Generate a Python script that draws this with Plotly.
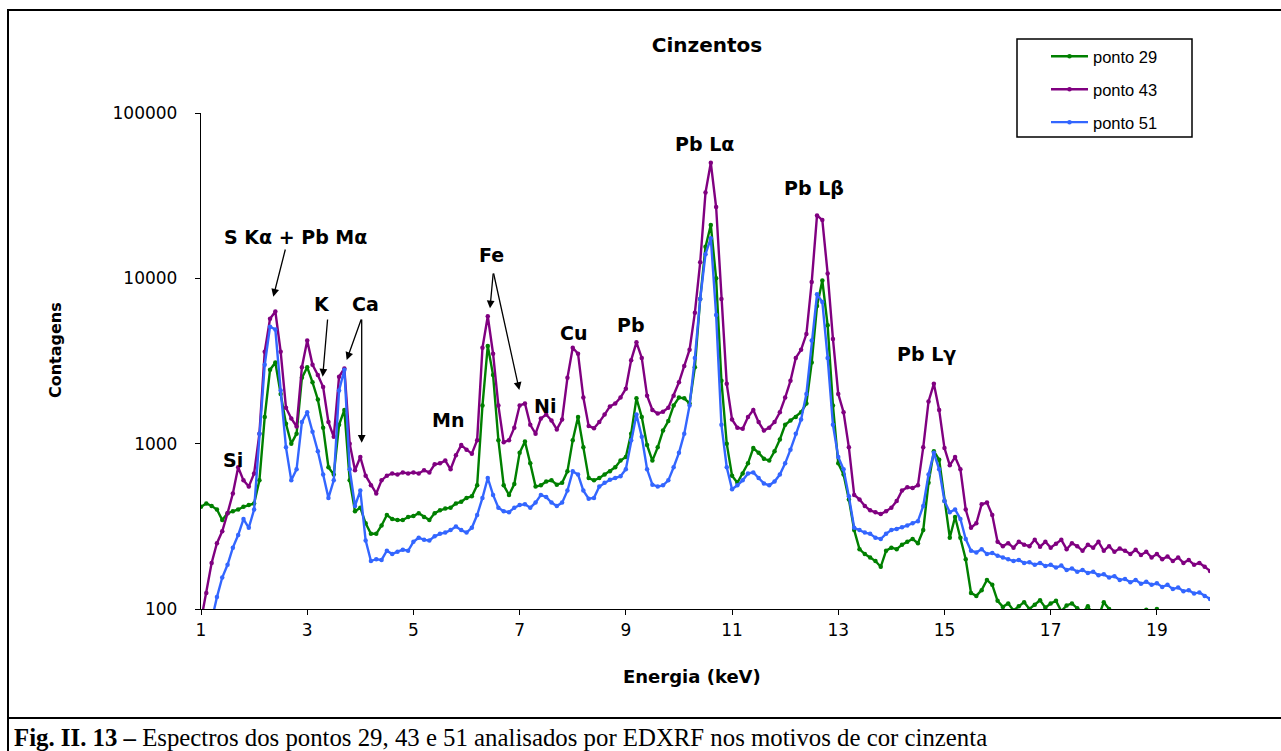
import plotly.graph_objects as go
import math

# ---------------- data ----------------
energia = [round(1 + 0.1 * i, 1) for i in range(191)]  # keV, 1.0 .. 20.0

ponto_29 = [
    415, 435, 420, 400, 345, 380, 390, 400, 415, 425,            # 1.x
    435, 600, 1450, 2800, 3100, 2000, 1320, 1000, 1150, 2500,     # 2.x
    2900, 2350, 1850, 1250, 720, 650, 1300, 1600, 600, 390,       # 3.x
    410, 330, 285, 285, 320, 370, 350, 345, 345, 360,             # 4.x
    365, 380, 360, 345, 380, 395, 405, 410, 435, 445,             # 5.x
    470, 480, 560, 1700, 3900, 2600, 1050, 560, 490, 570,         # 6.x
    880, 1030, 760, 550, 560, 590, 600, 565, 580, 680,            # 7.x
    1050, 1450, 950, 620, 600, 620, 650, 680, 720, 790,           # 8.x
    830, 1150, 1880, 1450, 980, 790, 950, 1200, 1370, 1700,       # 9.x
    1900, 1880, 1750, 2900, 7500, 15500, 21000, 10000, 2400, 1000,  # 10.x
    640, 580, 660, 760, 940, 880, 810, 790, 900, 1060,            # 11.x
    1300, 1380, 1450, 1550, 1750, 3100, 6800, 9700, 5200, 1700,   # 12.x
    760, 650, 460, 300, 230, 215, 205, 195, 180, 225,             # 13.x
    235, 230, 245, 255, 265, 250, 300, 580, 900, 800,             # 14.x
    450, 270, 360, 270, 200, 125, 120, 130, 150, 140,             # 15.x
    112, 103, 108, 98, 104, 110, 100, 106, 113, 102,              # 16.x
    108, 112, 97, 105, 108, 101, 95, 104, 92, 90,                 # 17.x
    110, 100, 88, 85, 80, 82, 78, 84, 99, 80,                     # 18.x
    100, 82, 76, 80, 74, 78, 72, 75, 70, 72,                      # 19.x
    68,                                                           # 20.0
]

ponto_43 = [
    85, 125, 190, 250, 295, 380, 500, 720, 600, 550,
    660, 1150, 3600, 5700, 6300, 3600, 1650, 1420, 1270, 2900,
    4200, 3000, 2600, 2200, 1350, 1100, 2540, 2850, 1000, 690,
    830, 640, 560, 500, 600, 640, 660, 650, 670, 660,
    670, 660, 690, 670, 750, 760, 790, 700, 850, 980,
    920, 870, 1050, 3800, 5900, 3500, 1700, 1020, 1050, 1250,
    1700, 1750, 1300, 1150, 1420, 1500, 1380, 1220, 1400, 2500,
    3800, 3500, 1900, 1280, 1240, 1350, 1500, 1680, 1750, 1900,
    2150, 3200, 4100, 3300, 1950, 1600, 1520, 1560, 1650, 1950,
    2350, 2950, 3700, 6200, 12500, 33000, 50000, 27000, 7500, 2300,
    1400, 1250, 1230, 1450, 1600, 1350, 1200, 1250, 1350, 1550,
    1900, 2400, 3300, 3700, 4600, 9500, 24000, 22500, 10700, 4300,
    2000, 1550, 950, 490, 460, 420, 395, 385, 375, 390,
    410, 450, 520, 545, 540, 560, 950, 1800, 2300, 1600,
    940, 740, 830, 700, 400, 310, 330, 430, 440, 370,
    255, 240, 250, 235, 255, 245, 240, 262, 238, 255,
    235, 248, 262, 230, 250, 240, 225, 245, 235, 255,
    225, 240, 222, 232, 225, 215, 228, 212, 222, 205,
    215, 200, 208, 195, 205, 190, 198, 185, 190, 180,
    170,
]

ponto_51 = [
    60, 70, 85, 118, 155, 185, 235, 280, 350, 310,
    400, 1150, 3000, 5100, 4900, 2100, 950, 600, 700, 1350,
    1550, 1180, 900, 650, 470, 600, 2100, 2800, 700, 420,
    520, 260, 195, 200, 198, 225, 215, 222, 228, 225,
    255, 270, 262, 260, 275, 285, 290, 300, 315, 300,
    290, 310, 370, 470, 620, 490, 410, 390, 385, 410,
    425, 430, 410, 440, 490, 475, 440, 420, 440, 520,
    680, 650, 520, 465, 470, 550, 580, 605, 620, 635,
    700, 1050, 1500, 1100, 700, 565, 550, 560, 600, 720,
    880, 1150, 1700, 3300, 7500, 14000, 17500, 6000, 1300, 720,
    530, 560, 600, 660, 670, 620, 575, 560, 590, 650,
    760, 920, 1150, 1400, 2000, 4200, 8000, 7200, 3300, 1300,
    830, 700, 480, 310, 300, 290, 285, 270, 265, 285,
    300, 305, 312, 320, 330, 340, 420, 650, 880, 700,
    450, 385, 400, 350, 265, 225, 220, 230, 215, 218,
    210, 205, 200, 195, 198, 190, 192, 185, 190, 182,
    185, 178, 183, 172, 176, 168, 172, 165, 168, 160,
    162, 155, 158, 150, 152, 145, 150, 142, 146, 140,
    143, 136, 140, 132, 135, 128, 130, 124, 126, 120,
    115,
]

series_names = ["ponto 29", "ponto 43", "ponto 51"]
series_colors = ["#008000", "#800080", "#3366FF"]

x_ticks = [1, 3, 5, 7, 9, 11, 13, 15, 17, 19]
y_ticks = [100, 1000, 10000, 100000]
y_tick_labels = ["100", "1000", "10000", "100000"]

# peak labels: (text, centre x px, centre y px)
peak_labels = [
    ("S K\u03b1 + Pb M\u03b1", 295, 237),
    ("K", 322, 304),
    ("Ca", 365, 304),
    ("Si", 233, 460),
    ("Mn", 448, 420),
    ("Fe", 491, 255),
    ("Ni", 545, 406),
    ("Cu", 573, 333),
    ("Pb", 631, 325),
    ("Pb L\u03b1", 704, 144),
    ("Pb L\u03b2", 814, 188),
    ("Pb L\u03b3", 926, 354),
]
# arrows: (head x px, head y px, tail x px, tail y px)
arrows = [
    (273.3, 296.7, 285.7, 248),
    (322.7, 376.7, 327.7, 318),
    (346.7, 360.0, 361.7, 318),
    (361.7, 442.7, 361.7, 318),
    (490.0, 308.3, 493.3, 272),
    (519.3, 390.0, 493.3, 272),
]

# ---------------- layout geometry ----------------
W, H = 1281, 751
L, R, T, B = 201, 1210, 113, 609
PW, PH = R - L, B - T


def px2x(px):
    return (px - L) / PW


def py2y(py):
    return (B - py) / PH


fig = go.Figure()
for name, vals, col in zip(series_names, [ponto_29, ponto_43, ponto_51], series_colors):
    fig.add_trace(go.Scatter(
        x=energia, y=vals, name=name, mode="lines+markers",
        line=dict(color=col, width=2.4),
        marker=dict(color=col, size=4.5),
        legendgroup=name,
    ))

annotations = []
for text, cx, cy in peak_labels:
    annotations.append(dict(
        x=px2x(cx), y=py2y(cy), xref="paper", yref="paper",
        text="<b>" + text + "</b>", showarrow=False,
        xanchor="center", yanchor="middle",
        font=dict(family="DejaVu Sans", size=19, color="black"),
    ))
for hx, hy, tx, ty in arrows:
    annotations.append(dict(
        x=px2x(hx), y=py2y(hy), xref="paper", yref="paper",
        ax=tx - hx, ay=ty - hy, text="", showarrow=True,
        arrowhead=2, arrowsize=1.2, arrowwidth=1.3, arrowcolor="black",
        standoff=0, startstandoff=0,
    ))

# axis titles
annotations.append(dict(
    x=px2x(55), y=py2y(350), xref="paper", yref="paper",
    text="<b>Contagens</b>", showarrow=False, textangle=-90,
    xanchor="center", yanchor="middle",
    font=dict(family="DejaVu Sans", size=16, color="black"),
))
annotations.append(dict(
    x=px2x(692), y=py2y(676), xref="paper", yref="paper",
    text="<b>Energia (keV)</b>", showarrow=False,
    xanchor="center", yanchor="middle",
    font=dict(family="DejaVu Sans", size=18, color="black"),
))
# caption
annotations.append(dict(
    x=px2x(12), y=py2y(737), xref="paper", yref="paper",
    text="<b>Fig. II. 13 \u2013</b> Espectros dos pontos 29, 43 e 51 analisados por EDXRF nos motivos de cor cinzenta",
    showarrow=False, xanchor="left", yanchor="middle",
    font=dict(family="Liberation Serif", size=24.8, color="black"),
))

line_style = dict(color="black", width=2)
shapes = [
    dict(type="line", xref="paper", yref="paper", x0=px2x(8), x1=px2x(8),
         y0=py2y(9), y1=py2y(760), line=line_style),
    dict(type="line", xref="paper", yref="paper", x0=px2x(7), x1=px2x(1290),
         y0=py2y(10), y1=py2y(10), line=line_style),
    dict(type="line", xref="paper", yref="paper", x0=px2x(7), x1=px2x(1290),
         y0=py2y(718), y1=py2y(718), line=line_style),
    # legend frame
    dict(type="rect", xref="paper", yref="paper", x0=px2x(1017), x1=px2x(1192),
         y0=py2y(39), y1=py2y(137), line=dict(color="black", width=1.5),
         fillcolor="rgba(0,0,0,0)", layer="below"),
]

fig.update_layout(
    width=W, height=H, autosize=False,
    margin=dict(l=L, r=W - R, t=T, b=H - B, pad=0),
    paper_bgcolor="white", plot_bgcolor="white",
    font=dict(family="DejaVu Sans", color="black"),
    title=dict(text="<b>Cinzentos</b>", x=707 / W, y=1 - 45 / H,
               xref="container", yref="container", xanchor="center", yanchor="middle",
               font=dict(family="DejaVu Sans", size=20, color="black")),
    showlegend=True,
    legend=dict(
        x=px2x(1046), y=py2y(39), xref="paper", yref="paper",
        xanchor="left", yanchor="top",
        bgcolor="rgba(0,0,0,0)", borderwidth=0,
        itemwidth=37, tracegroupgap=8.5, traceorder="grouped",
        font=dict(family="Liberation Sans", size=16.5, color="black"),
    ),
    annotations=annotations,
    shapes=shapes,
)
fig.update_xaxes(
    range=[1, 20], tickmode="array", tickvals=x_ticks,
    ticks="outside", ticklen=5, tickcolor="black", tickwidth=1,
    showline=True, linecolor="black", linewidth=1.3,
    showgrid=False, zeroline=False,
    tickfont=dict(family="DejaVu Sans", size=17, color="black"),
)
fig.update_yaxes(
    type="log", range=[math.log10(100), math.log10(100000)],
    tickmode="array", tickvals=y_ticks, ticktext=y_tick_labels,
    ticks="outside", ticklen=5, tickcolor="black", tickwidth=1,
    showline=True, linecolor="black", linewidth=1.3,
    showgrid=False, zeroline=False, ticklabelstandoff=14,
    tickfont=dict(family="DejaVu Sans", size=17, color="black"),
)

fig.write_html("out.html")
